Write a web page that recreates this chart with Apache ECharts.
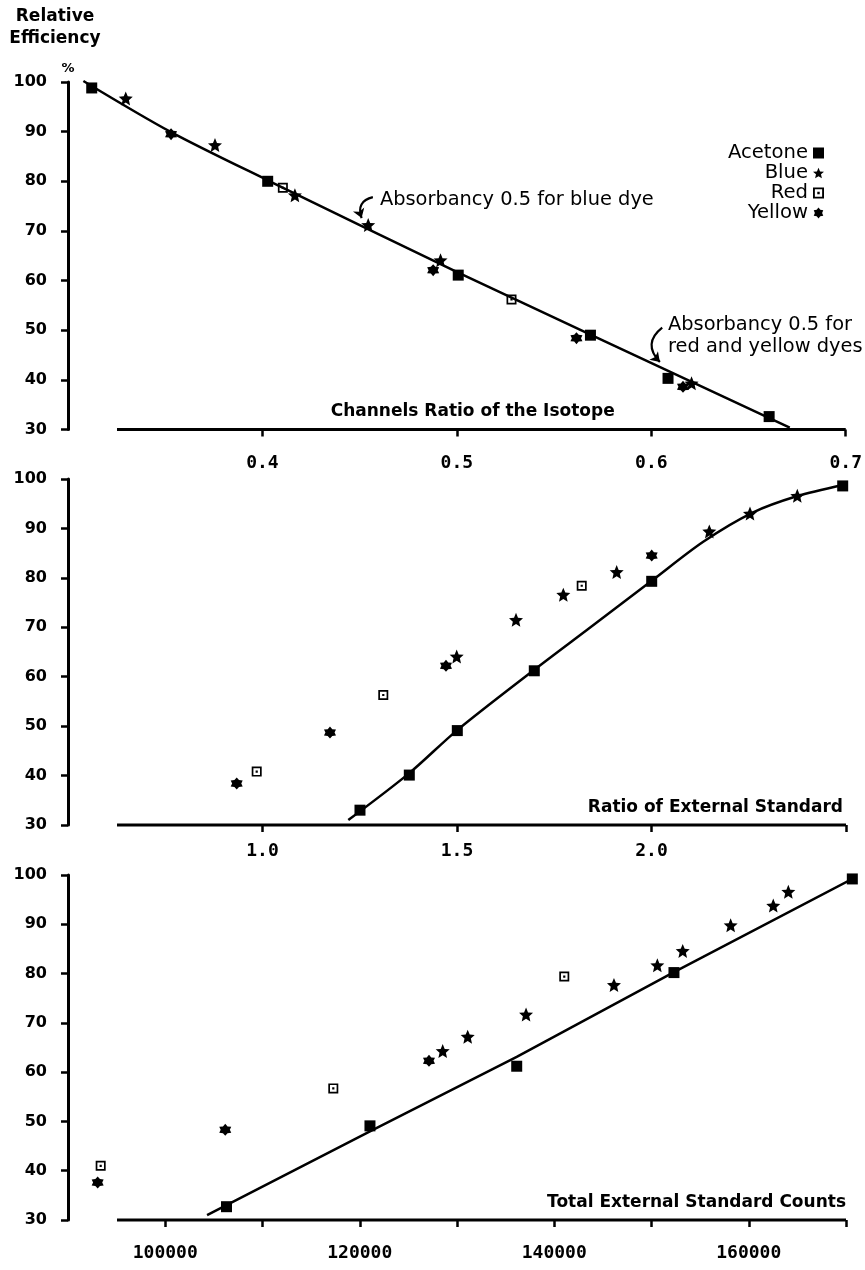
<!DOCTYPE html>
<html><head><meta charset="utf-8">
<script src="https://cdn.jsdelivr.net/npm/echarts@6/dist/echarts.min.js"></script>
<style>html,body{margin:0;padding:0;background:#fff}#c{width:865px;height:1270px}</style>
</head><body><div id="c"></div>
<script>
// ---------- DATA ----------
const seriesNames = ['Acetone', 'Blue', 'Red', 'Yellow'];

// Panel 1: Channels Ratio of the Isotope
const chanAcetone = [[0.3122, 98.8], [0.4027, 80.0], [0.5007, 61.1], [0.5687, 49.0], [0.6086, 40.3], [0.6606, 32.6]];
const chanBlue    = [[0.3297, 96.7], [0.3756, 87.3], [0.4167, 77.2], [0.4544, 71.2], [0.4916, 64.1], [0.6207, 39.3]];
const chanRed     = [[0.4105, 78.7], [0.5281, 56.2]];
const chanYellow  = [[0.3530, 89.5], [0.4878, 62.1], [0.5615, 48.4], [0.6163, 38.6]];
const chanFit     = [[0.3079, 100.2], [0.3530, 89.9], [0.4027, 80.2], [0.5007, 61.6], [0.6712, 30.4]];
const chanTicks   = [0.4, 0.5, 0.6, 0.7];
const chanLabels  = [0.4, 0.5, 0.6, 0.7];

// Panel 2: Ratio of External Standard
const ratioAcetone = [[1.2506, 33.0], [1.3774, 40.1], [1.5008, 49.1], [1.6987, 61.2], [2.0005, 79.3], [2.4915, 98.6]];
const ratioBlue    = [[1.4992, 64.1], [1.6517, 71.5], [1.7733, 76.6], [1.9105, 81.2], [2.1486, 89.4], [2.2532, 93.0], [2.3748, 96.6]];
const ratioRed     = [[0.9851, 40.8], [1.3105, 56.3], [1.8206, 78.4]];
const ratioYellow  = [[0.9337, 38.4], [1.1735, 48.7], [1.4717, 62.2], [2.0005, 84.5]];
const ratioFit     = [[1.2206, 31.0], [1.3774, 40.5], [1.5008, 49.2], [1.6987, 61.4], [1.833, 69.4], [2.0005, 79.4], [2.133, 87.3], [2.26, 93.2], [2.373, 96.5], [2.4915, 98.8]];
const ratioTicks   = [1.0, 1.5, 2.0, 2.5];
const ratioLabels  = [1.0, 1.5, 2.0];

// Panel 3: Total External Standard Counts
const countAcetone = [[106300, 32.7], [121050, 49.1], [136140, 61.2], [152310, 80.2], [170650, 99.2]];
const countBlue    = [[128530, 64.3], [131100, 67.2], [137100, 71.7], [146140, 77.7], [150600, 81.7], [153210, 84.6], [158140, 89.8], [162520, 93.8], [164070, 96.6]];
const countRed     = [[93360, 41.0], [117280, 56.7], [141030, 79.4]];
const countYellow  = [[93050, 37.6], [106170, 48.3], [127120, 62.3]];
const countFit     = [[104300, 31.0], [121050, 48.0], [136140, 63.1], [152310, 80.3], [170650, 99.2]];
const countTicks   = [100000, 110000, 120000, 130000, 140000, 150000, 160000, 170000];
const countLabels  = [100000, 120000, 140000, 160000];

// Axis base lines (drawn portion of each x axis)
const chanBase  = [[0.3252, 30], [0.7, 30]];
const ratioBase = [[0.626, 30], [2.5, 30]];
const countBase = [[95040, 30], [170000, 30]];

// Annotations (top panel)
const annotTexts  = ['Absorbancy 0.5 for blue dye', 'Absorbancy 0.5 for\nred and yellow dyes'];
const annotAnchor = [[0.4604, 76.2], [0.6086, 48.8]];
const annotArrows = [[[0.4568, 76.8], [0.4510, 72.6]], [[0.6056, 50.5], [0.6044, 43.6]]];

// ---------- STYLE ----------
const INK = '#000';
const STAR5 = 'path://M0,-10L2.7,-3.6L9.51,-3.09L4.3,1.4L5.88,8.09L0,4.5L-5.88,8.09L-4.3,1.4L-9.51,-3.09L-2.7,-3.6Z';
const STAR6 = 'path://M0,-10L3.3,-5.7L8.66,-5L6.6,0L8.66,5L3.3,5.7L0,10L-3.3,5.7L-8.66,5L-6.6,0L-8.66,-5L-3.3,-5.7Z';
const REDBOX = 'path://M0,0H10V10H0Z M1.7,1.7V8.3H8.3V1.7Z M3.9,3.9H6.1V6.1H3.9Z';
const symbols = { Acetone: ['rect', 11], Blue: [STAR5, 14], Red: [REDBOX, 10], Yellow: [STAR6, 12] };

const grids = [
  { left: 68, right: 19, top: 82, height: 347.5 },
  { left: 68, right: 19, top: 479, height: 346 },
  { left: 68, right: 19, top: 875, height: 345 }
];

function yAxis(i, withName) {
  return {
    type: 'value', gridIndex: i, min: 30, max: 100, interval: 10,
    name: withName ? '%' : '', nameLocation: 'end', nameGap: 7,
    nameTextStyle: { fontFamily: 'DejaVu Sans', fontWeight: 'bold', fontSize: 13, color: INK, align: 'center' },
    axisLine: { show: true, lineStyle: { color: INK, width: 3 } },
    axisTick: { show: true, length: 7, lineStyle: { color: INK, width: 2.5 } },
    axisLabel: { margin: 21, fontFamily: 'DejaVu Sans', fontWeight: 'bold', fontSize: 16, color: INK },
    splitLine: { show: false }
  };
}

function xAxis(i, min, max, ticks, labels, fmt, margin, name, nameGap) {
  return {
    type: 'value', gridIndex: i, min: min, max: max,
    axisLine: { show: false },
    axisTick: { show: true, customValues: ticks, length: 7, lineStyle: { color: INK, width: 2.5 } },
    axisLabel: { show: true, customValues: labels, formatter: fmt, margin: margin,
      fontFamily: 'DejaVu Sans Mono', fontWeight: 'bold', fontSize: 18, color: INK },
    splitLine: { show: false },
    name: name, nameLocation: 'end', nameGap: nameGap,
    nameTextStyle: { fontFamily: 'DejaVu Sans', fontWeight: 'bold', fontSize: 17, color: INK,
      align: 'right', verticalAlign: 'bottom', lineHeight: 17, padding: [0, 0, 9, 0] }
  };
}

function panelSeries(i, sets, fit, base, smooth, extra) {
  const out = [];
  seriesNames.forEach((nm, k) => {
    out.push({
      type: 'scatter', name: nm, xAxisIndex: i, yAxisIndex: i, data: sets[k],
      symbol: symbols[nm][0], symbolSize: symbols[nm][1], clip: false,
      itemStyle: { color: INK, opacity: 1 }, z: 5, silent: true
    });
  });
  const fitSeries = {
    type: 'line', name: 'fit' + i, xAxisIndex: i, yAxisIndex: i, data: fit,
    showSymbol: false, symbol: 'none', smooth: smooth, clip: false,
    lineStyle: { color: INK, width: 2.5 }, z: 3, silent: true
  };
  if (extra) Object.assign(fitSeries, extra);
  out.push(fitSeries);
  out.push({
    type: 'line', name: 'base' + i, xAxisIndex: i, yAxisIndex: i, data: base,
    showSymbol: false, symbol: 'none', clip: false,
    lineStyle: { color: INK, width: 3 }, z: 2, silent: true
  });
  return out;
}

const annotStyle = { fontFamily: 'DejaVu Sans', fontSize: 19.4, color: INK };
const topExtra = {
  markPoint: {
    symbol: 'circle', symbolSize: 0, silent: true, animation: false,
    label: Object.assign({ show: true, position: 'right', distance: 0, align: 'left', lineHeight: 22,
      formatter: p => p.name }, annotStyle),
    data: annotTexts.map((t, k) => ({ coord: annotAnchor[k], name: t }))
  }
};

const arrowSeries = {
  type: 'lines', coordinateSystem: 'cartesian2d', xAxisIndex: 0, yAxisIndex: 0,
  silent: true, animation: false, z: 6,
  symbol: ['none', 'arrow'], symbolSize: 9,
  lineStyle: { color: INK, width: 2.2, opacity: 1, curveness: -0.55 },
  data: annotArrows.map(a => ({ coords: a }))
};

const option = {
  backgroundColor: '#fff',
  animation: false,
  grid: grids,
  legend: {
    data: seriesNames, orient: 'vertical', align: 'right', right: 36, top: 138,
    itemWidth: 11, itemHeight: 11, itemGap: 0, selectedMode: false,
    textStyle: { fontFamily: 'DejaVu Sans', fontSize: 19.6, color: INK, lineHeight: 20 }
  },
  graphic: [{
    type: 'text', x: 55, y: 6,
    style: { text: 'Relative\nEfficiency', align: 'center', verticalAlign: 'top',
      font: 'bold 17px "DejaVu Sans"', lineHeight: 22, fill: INK }
  }],
  xAxis: [
    xAxis(0, 0.3, 0.7, chanTicks, chanLabels, v => v.toFixed(1), 25, 'Channels Ratio of the Isotope', -231),
    xAxis(1, 0.5, 2.5, ratioTicks, ratioLabels, v => v.toFixed(1), 17, 'Ratio of External Standard', -3),
    xAxis(2, 90000, 170000, countTicks, countLabels, v => String(v), 24, 'Total External Standard Counts', 0)
  ],
  yAxis: [yAxis(0, true), yAxis(1, false), yAxis(2, false)],
  series: [].concat(
    panelSeries(0, [chanAcetone, chanBlue, chanRed, chanYellow], chanFit, chanBase, 0.3, topExtra),
    panelSeries(1, [ratioAcetone, ratioBlue, ratioRed, ratioYellow], ratioFit, ratioBase, 0.3, null),
    panelSeries(2, [countAcetone, countBlue, countRed, countYellow], countFit, countBase, false, null),
    [arrowSeries]
  )
};

const chart = echarts.init(document.getElementById('c'), null, { renderer: 'canvas' });
chart.setOption(option);
</script>
</body></html>
